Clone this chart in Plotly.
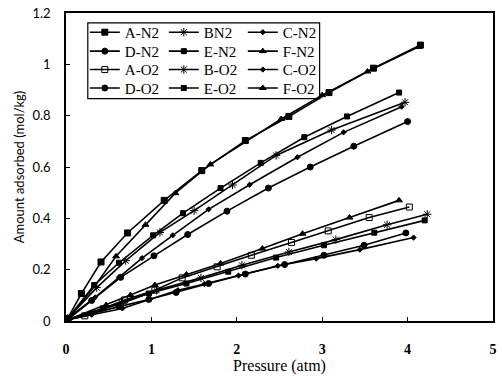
import plotly.graph_objects as go

# ---- data ----
a_n2_x = [0.02, 0.18, 0.41, 0.72, 1.15, 1.59, 2.10, 2.61, 3.08, 3.60, 4.15]
a_n2_y = [0.01, 0.107, 0.23, 0.343, 0.47, 0.586, 0.703, 0.797, 0.89, 0.985, 1.075]
b_n2_x = [0.02, 0.36, 0.70, 1.10, 1.50, 1.95, 2.46, 3.11, 3.97]
b_n2_y = [0.01, 0.13, 0.235, 0.345, 0.43, 0.53, 0.645, 0.744, 0.852]
c_n2_x = [0.02, 0.34, 0.62, 0.89, 1.25, 1.67, 2.15, 2.71, 3.25, 3.93]
c_n2_y = [0.01, 0.092, 0.17, 0.245, 0.334, 0.435, 0.531, 0.638, 0.735, 0.835]
d_n2_x = [0.02, 0.30, 0.64, 1.03, 1.425, 1.885, 2.37, 2.86, 3.37, 4.00]
d_n2_y = [0.005, 0.08, 0.17, 0.254, 0.337, 0.428, 0.518, 0.60, 0.681, 0.777]
e_n2_x = [0.02, 0.33, 0.62, 1.02, 1.37, 1.81, 2.28, 2.79, 3.29, 3.90]
e_n2_y = [0.01, 0.14, 0.227, 0.334, 0.42, 0.518, 0.616, 0.716, 0.797, 0.89]
f_n2_x = [0.03, 0.337, 0.586, 0.931, 1.28, 1.69, 2.52, 3.00, 3.53, 4.13]
f_n2_y = [0.01, 0.136, 0.252, 0.375, 0.498, 0.61, 0.787, 0.88, 0.972, 1.068]

a_o2_x = [0.02, 0.22, 0.686, 1.04, 1.36, 1.77, 2.17, 2.64, 3.07, 3.55, 4.02]
a_o2_y = [0.005, 0.02, 0.082, 0.12, 0.168, 0.211, 0.256, 0.306, 0.351, 0.403, 0.444]
b_o2_x = [0.02, 0.66, 1.06, 1.58, 2.06, 2.61, 3.16, 3.76, 4.23]
b_o2_y = [0.005, 0.069, 0.12, 0.168, 0.217, 0.269, 0.317, 0.375, 0.416]
c_o2_x = [0.02, 0.30, 0.66, 0.985, 1.31, 1.62, 2.02, 2.48, 2.93, 3.44, 4.07]
c_o2_y = [0.005, 0.025, 0.049, 0.085, 0.12, 0.144, 0.177, 0.215, 0.243, 0.278, 0.325]
d_o2_x = [0.02, 0.30, 0.62, 0.97, 1.29, 1.67, 2.10, 2.56, 3.02, 3.49, 3.98]
d_o2_y = [0.005, 0.03, 0.056, 0.084, 0.111, 0.146, 0.183, 0.22, 0.256, 0.295, 0.343]
e_o2_x = [0.02, 0.43, 0.97, 1.41, 1.90, 2.46, 3.02, 3.61, 4.20]
e_o2_y = [0.005, 0.049, 0.107, 0.146, 0.192, 0.247, 0.295, 0.344, 0.392]
f_o2_x = [0.02, 0.47, 0.755, 1.04, 1.41, 1.81, 2.30, 2.77, 3.32, 3.90]
f_o2_y = [0.005, 0.062, 0.101, 0.14, 0.181, 0.224, 0.282, 0.34, 0.403, 0.47]

x_ticks = [0, 1, 2, 3, 4, 5]
y_ticks = [0, 0.2, 0.4, 0.6, 0.8, 1, 1.2]

SERIF = "Liberation Serif"
SANS = "Lato"

# (name, x, y, symbol, size, legend row)
series = [
    ("A-N2", a_n2_x, a_n2_y, "square", 6, "legend"),
    ("BN2", b_n2_x, b_n2_y, "asterisk-open", 7, "legend"),
    ("C-N2", c_n2_x, c_n2_y, "diamond", 4, "legend"),
    ("D-N2", d_n2_x, d_n2_y, "circle", 6, "legend2"),
    ("E-N2", e_n2_x, e_n2_y, "square", 5, "legend2"),
    ("F-N2", f_n2_x, f_n2_y, "triangle-up", 6, "legend2"),
    ("A-O2", a_o2_x, a_o2_y, "square-open", 6, "legend3"),
    ("B-O2", b_o2_x, b_o2_y, "asterisk-open", 7, "legend3"),
    ("C-O2", c_o2_x, c_o2_y, "diamond", 4, "legend3"),
    ("D-O2", d_o2_x, d_o2_y, "circle", 6, "legend4"),
    ("E-O2", e_o2_x, e_o2_y, "square", 5, "legend4"),
    ("F-O2", f_o2_x, f_o2_y, "triangle-up", 6, "legend4"),
]

fig = go.Figure()
for name, xs, ys, sym, sz, lg in series:
    fig.add_trace(go.Scatter(
        x=xs, y=ys, name=name, mode="lines+markers", legend=lg,
        line=dict(color="black", width=1.6),
        marker=dict(symbol=sym, size=sz, color="black",
                    line=dict(color="black", width=1)),
    ))

W, H = 502, 376
ml, mr, mt, mb = 66, 5, 12, 55
pw, ph = W - ml - mr, H - mt - mb

def px(x):
    return (x - ml) / pw

def py(y):
    return (H - mb - y) / ph

leg_common = dict(bgcolor="rgba(0,0,0,0)", borderwidth=0, xanchor="left",
                  yanchor="middle", orientation="h", entrywidth=34,
                  font=dict(family=SERIF, size=15, color="black"),
                  itemwidth=30, tracegroupgap=0)

fig.update_layout(
    width=W, height=H,
    margin=dict(l=ml, r=mr, t=mt, b=mb),
    paper_bgcolor="white", plot_bgcolor="white",
    font=dict(family=SERIF, color="black", size=13),
    legend=dict(x=px(85), y=py(31.5), **leg_common),
    legend2=dict(x=px(85), y=py(50.5), **leg_common),
    legend3=dict(x=px(85), y=py(69), **leg_common),
    legend4=dict(x=px(85), y=py(87.5), **leg_common),
    xaxis=dict(range=[0, 5], tickvals=x_ticks, ticks="inside", ticklen=4,
               tickcolor="black", showline=True, linecolor="black", linewidth=1.5,
               mirror=True, showgrid=False, zeroline=False,
               tickfont=dict(family=SERIF, size=14, weight="bold"),
               ticklabelstandoff=14,
               title=dict(text="Pressure (atm)", standoff=2,
                          font=dict(family=SERIF, size=16))),
    yaxis=dict(range=[0, 1.2], tickvals=y_ticks, ticks="inside", ticklen=4,
               tickcolor="black", showline=True, linecolor="black", linewidth=1.5,
               mirror=True, showgrid=False, zeroline=False,
               tickfont=dict(family=SANS, size=13),
               ticklabelstandoff=11,
               title=dict(text="Amount adsorbed (mol/kg)", standoff=5,
                          font=dict(family=SANS, size=13))),
    shapes=[dict(type="rect", xref="paper", yref="paper",
                 x0=px(88), x1=px(322), y0=py(98), y1=py(22),
                 line=dict(color="black", width=1.2))],
)

fig.write_html("out.html", config={"displayModeBar": False},
               post_script="document.body.style.margin='0';")
